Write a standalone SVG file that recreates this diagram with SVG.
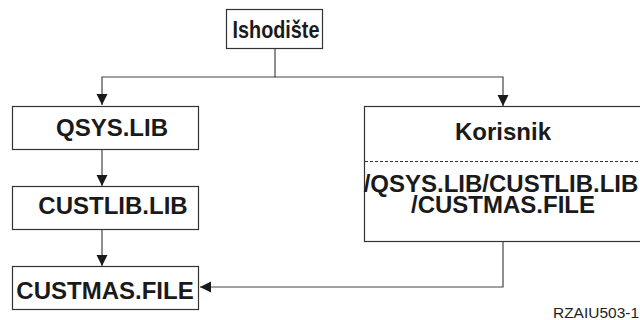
<svg xmlns="http://www.w3.org/2000/svg" width="640" height="320" viewBox="0 0 640 320">
<style>
.box{fill:#fff;stroke:#333;stroke-width:1.2}
.lbl{font-family:"Liberation Sans",Arial,sans-serif;font-weight:bold;font-size:24px;fill:#1a1a1a;text-anchor:middle}
.con{fill:none;stroke:#444;stroke-width:1.2}
.dash{stroke:#333;stroke-width:1;stroke-dasharray:3 2}
.note{font-family:"Liberation Sans",Arial,sans-serif;font-size:15px;fill:#222}
</style>
<defs>
<marker id="ah" markerUnits="userSpaceOnUse" markerWidth="12" markerHeight="12" viewBox="0 0 12 12" refX="11" refY="6" orient="auto">
<path d="M0,0.5 L11,6 L0,11.5 Z" fill="#1a1a1a"/>
</marker>
</defs>
<rect width="640" height="320" fill="#fff"/>
<g id="connectors">
<polyline class="con" points="275,49 275,77 102,77 102,105" marker-end="url(#ah)"/>
<polyline class="con" points="275,77 503,77 503,106" marker-end="url(#ah)"/>
<line class="con" x1="102" y1="150" x2="102" y2="186" marker-end="url(#ah)"/>
<line class="con" x1="102" y1="230" x2="102" y2="266" marker-end="url(#ah)"/>
<polyline class="con" points="503,242 503,287 200,287" marker-end="url(#ah)"/>
</g>
<g id="ishodiste">
<rect class="box" x="226.5" y="9.5" width="96" height="39"/>
<text class="lbl" x="276" y="38" font-size="22" textLength="87" lengthAdjust="spacingAndGlyphs">Ishodište</text>
</g>
<g id="qsys">
<rect class="box" x="12.5" y="106.5" width="186" height="43"/>
<text class="lbl" x="112" y="136">QSYS.LIB</text>
</g>
<g id="custlib">
<rect class="box" x="12.5" y="186.5" width="186" height="43"/>
<text class="lbl" x="113" y="214">CUSTLIB.LIB</text>
</g>
<g id="custmas">
<rect class="box" x="12.5" y="266.5" width="186" height="43"/>
<text class="lbl" x="105" y="299">CUSTMAS.FILE</text>
</g>
<g id="korisnik">
<rect class="box" x="364.5" y="106.5" width="278" height="135"/>
<line class="dash" x1="365" y1="161.5" x2="640" y2="161.5"/>
<text class="lbl" x="503" y="140">Korisnik</text>
<text class="lbl" x="501" y="192">/QSYS.LIB/CUSTLIB.LIB</text>
<text class="lbl" x="503" y="213">/CUSTMAS.FILE</text>
</g>
<text class="note" x="553" y="318" textLength="86" lengthAdjust="spacingAndGlyphs">RZAIU503-1</text>
</svg>
